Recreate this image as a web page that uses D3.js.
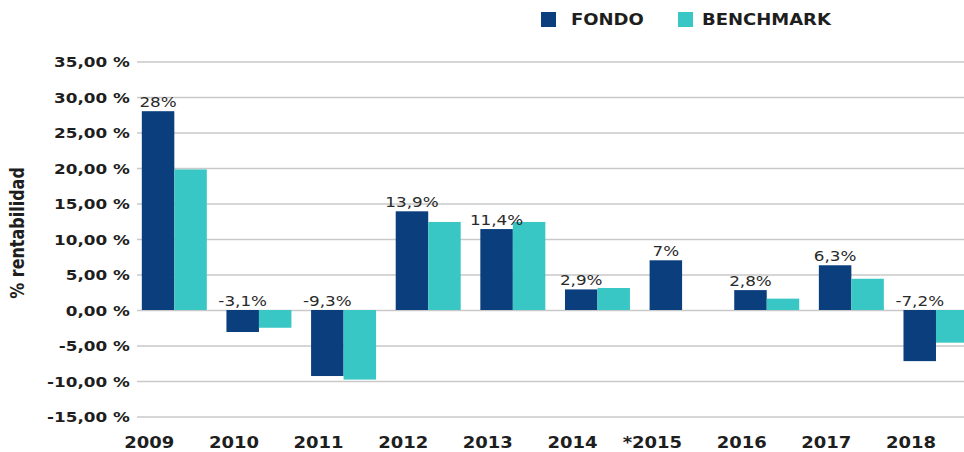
<!DOCTYPE html>
<html>
<head>
<meta charset="utf-8">
<script src="https://cdn.jsdelivr.net/npm/d3@7"></script>
<style>
    html, body { margin: 0; padding: 0; background: #fff; }
    #chart { width: 964px; height: 452px; }
    text { font-family: "DejaVu Sans", Verdana, sans-serif; }
</style>
</head>
<body>
<div id="chart"></div>
<script>
// Rentabilidad anual: fondo vs benchmark, barras agrupadas.
var years = ['2009', '2010', '2011', '2012', '2013', '2014', '*2015', '2016', '2017', '2018'];
var fondo = [28, -3.1, -9.3, 13.9, 11.4, 2.9, 7, 2.8, 6.3, -7.2];
var benchmark = [19.8, -2.5, -9.8, 12.4, 12.4, 3.1, null, 1.6, 4.4, -4.6];
var seriesNames = ['FONDO', 'BENCHMARK'];
var yTicks = [-15, -10, -5, 0, 5, 10, 15, 20, 25, 30, 35];

(function () {
    var W = 964, H = 452;
    var colors = ['#0b3e7d', '#38c7c5'];
    var sx = 1.2;   // the source text is stretched sideways

    var svg = d3.select('#chart').append('svg')
        .attr('width', W).attr('height', H);

    var y = d3.scaleLinear().domain([-15, 35]).range([416.5, 61.5]);
    var x0 = d3.scaleBand().domain(years).range([132, 978.3])
        .paddingInner(0.232).paddingOuter(0.116);
    var x1 = d3.scaleBand().domain([0, 1]).range([0, x0.bandwidth()]);

    var loc = d3.formatLocale({ decimal: ',', thousands: '.', grouping: [3],
        currency: ['', ''], minus: '-' });
    var fmt2 = loc.format('.2f');

    // Grid + y tick labels
    var gridLeft = 137;
    var yAxisG = svg.append('g')
        .attr('transform', 'translate(' + gridLeft + ',0)')
        .call(d3.axisLeft(y).tickValues(yTicks)
            .tickSize(-(W - gridLeft)).tickPadding(6)
            .tickFormat(function (d) { return fmt2(d) + ' %'; }));
    yAxisG.select('.domain').remove();
    yAxisG.selectAll('line')
        .attr('stroke', '#c9c9c9').attr('stroke-width', 1.6);
    yAxisG.selectAll('text')
        .attr('font-size', 14).attr('font-weight', 'bold').attr('fill', '#1e1e1e')
        .attr('dy', '0.36em')
        .attr('transform', 'scale(' + sx + ',1)');

    // Bars
    var rows = years.map(function (yr, i) {
        return { year: yr, vals: [fondo[i], benchmark[i]] };
    });
    var groups = svg.append('g').selectAll('g').data(rows).enter().append('g')
        .attr('transform', function (d) { return 'translate(' + x0(d.year) + ',0)'; });
    groups.selectAll('rect')
        .data(function (d) {
            return d.vals.map(function (v, k) { return { k: k, v: v }; })
                .filter(function (e) { return e.v !== null; });
        })
        .enter().append('rect')
        .attr('x', function (e) { return x1(e.k); })
        .attr('width', x1.bandwidth())
        .attr('y', function (e) { return y(Math.max(0, e.v)); })
        .attr('height', function (e) { return Math.abs(y(e.v) - y(0)); })
        .attr('fill', function (e) { return colors[e.k]; });

    // Value labels over the FONDO bars
    function pct(v) {
        var s = (v % 1 === 0) ? String(v) : v.toFixed(1).replace('.', ',');
        return s + '%';
    }
    groups.append('text')
        .attr('transform', function (d) {
            var cx = x1(0) + x1.bandwidth() / 2;
            var by = Math.min(y(d.vals[0]), y(0)) - 4;
            return 'translate(' + cx + ',' + by + ') scale(' + sx + ',1)';
        })
        .attr('text-anchor', 'middle')
        .attr('font-size', 14).attr('fill', '#2a2a2a')
        .text(function (d) { return pct(d.vals[0]); });

    // X axis labels (right-aligned to the group centre)
    var xAxisG = svg.append('g')
        .attr('transform', 'translate(0,448)')
        .call(d3.axisBottom(x0).tickSize(0));
    xAxisG.select('.domain').remove();
    xAxisG.selectAll('text')
        .attr('y', 0).attr('dy', 0)
        .attr('text-anchor', 'end')
        .attr('font-size', 15).attr('font-weight', 'bold').attr('fill', '#1e1e1e')
        .attr('transform', 'scale(' + sx + ',1)');

    // Legend
    var legX = [541, 678];
    var leg = svg.append('g').selectAll('g').data(seriesNames).enter().append('g')
        .attr('transform', function (d, i) { return 'translate(' + legX[i] + ',12)'; });
    leg.append('rect').attr('width', 15).attr('height', 15)
        .attr('fill', function (d, i) { return colors[i]; });
    leg.append('text')
        .attr('transform', 'translate(' + 0 + ',13) scale(' + sx + ',1)')
        .attr('x', function (d, i) { return i === 0 ? 25 : 20; })
        .attr('font-size', 15).attr('font-weight', 'bold').attr('fill', '#1e1e1e')
        .text(function (d) { return d; });

    // Y axis title
    svg.append('text')
        .attr('transform', 'translate(24,233) scale(' + sx + ',1) rotate(-90)')
        .attr('text-anchor', 'middle')
        .attr('font-size', 16).attr('font-weight', 'bold').attr('fill', '#1e1e1e')
        .text('% rentabilidad');
})();
</script>
</body>
</html>
